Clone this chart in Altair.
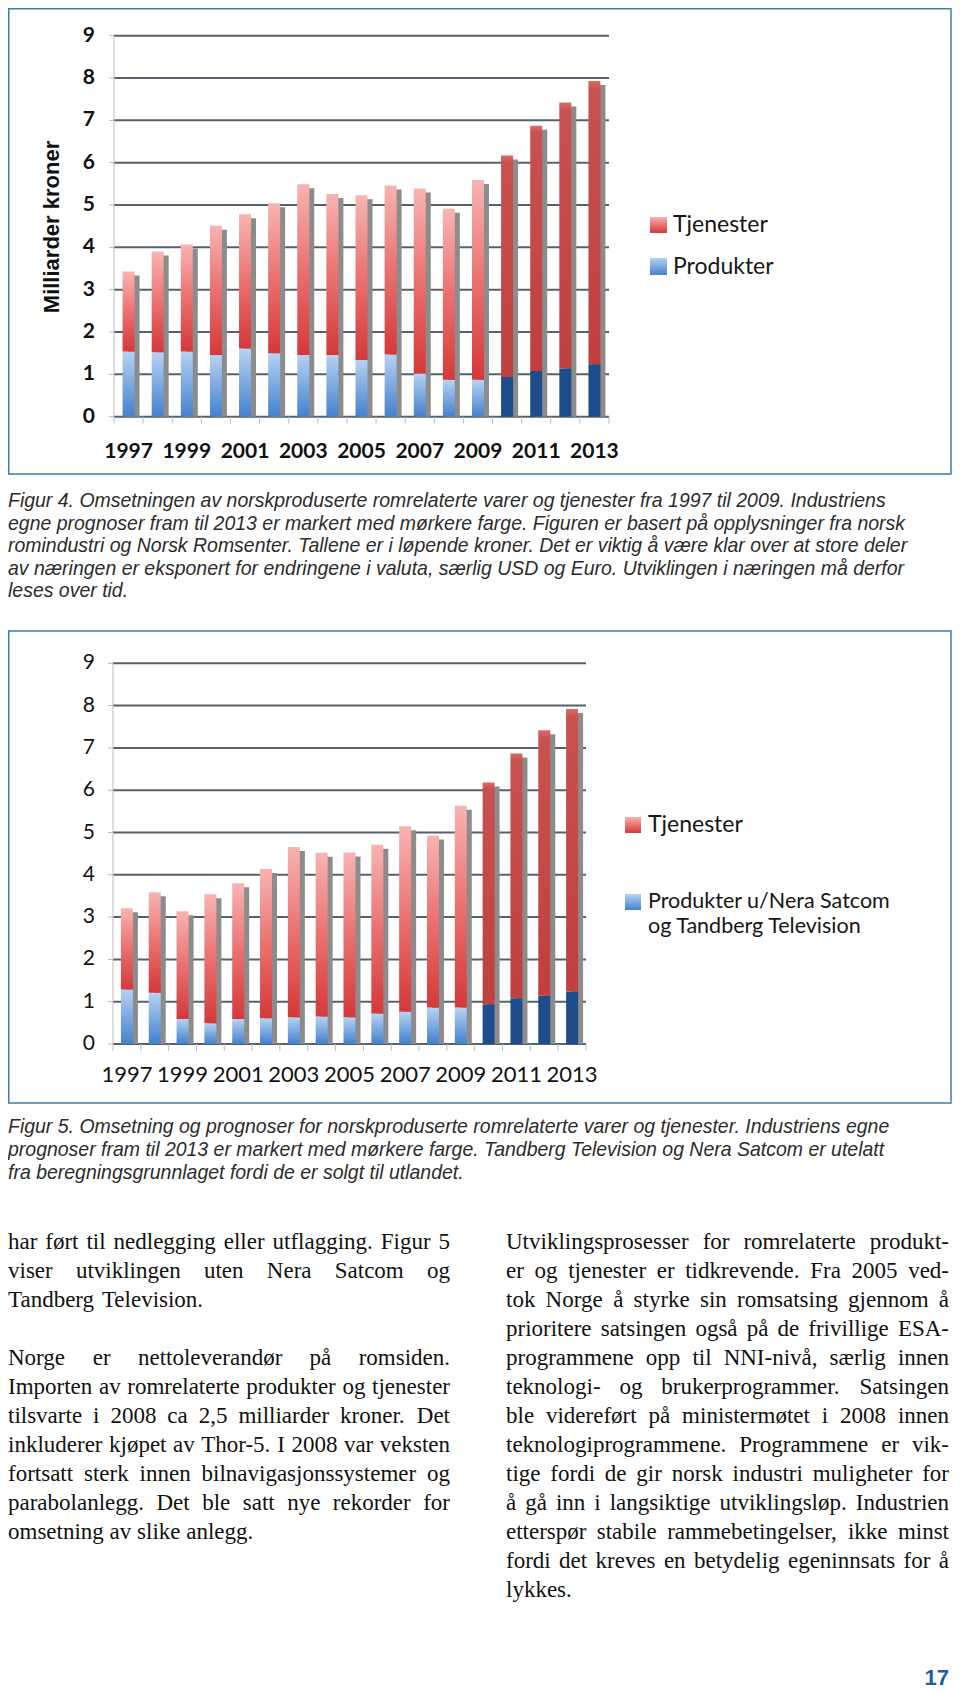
import altair as alt
import pandas as pd

# ---------------- data ----------------
years = [str(y) for y in range(1997, 2014)]
prognose_years = ["2010", "2011", "2012", "2013"]
x_labels = ["1997", "1999", "2001", "2003", "2005", "2007", "2009", "2011", "2013"]
y_ticks = [0, 1, 2, 3, 4, 5, 6, 7, 8, 9]

fig4_produkter = [1.54, 1.52, 1.54, 1.46, 1.61, 1.50, 1.46, 1.46, 1.34, 1.47, 1.02, 0.87, 0.87, 0.94, 1.08, 1.14, 1.24]
fig4_tjenester = [1.89, 2.38, 2.53, 3.05, 3.17, 3.54, 4.03, 3.80, 3.89, 3.99, 4.37, 4.04, 4.72, 5.23, 5.79, 6.28, 6.69]
fig5_produkter = [1.29, 1.21, 0.59, 0.49, 0.59, 0.61, 0.63, 0.65, 0.63, 0.72, 0.76, 0.86, 0.86, 0.94, 1.08, 1.14, 1.24]
fig5_tjenester = [1.92, 2.38, 2.55, 3.05, 3.21, 3.53, 4.03, 3.87, 3.90, 3.99, 4.39, 4.07, 4.77, 5.24, 5.79, 6.28, 6.68]

fig4_legend = ["Tjenester", "Produkter"]
fig5_legend = ["Tjenester", "Produkter u/Nera Satcom", "og Tandberg Television"]
fig4_y_title = "Milliarder kroner"

caption4 = [
    "Figur 4. Omsetningen av norskproduserte romrelaterte varer og tjenester fra 1997 til 2009. Industriens",
    "egne prognoser fram til 2013 er markert med mørkere farge. Figuren er basert på opplysninger fra norsk",
    "romindustri og Norsk Romsenter. Tallene er i løpende kroner. Det er viktig å være klar over at store deler",
    "av næringen er eksponert for endringene i valuta, særlig USD og Euro. Utviklingen i næringen må derfor",
    "leses over tid.",
]
caption5 = [
    "Figur 5. Omsetning og prognoser for norskproduserte romrelaterte varer og tjenester. Industriens egne",
    "prognoser fram til 2013 er markert med mørkere farge. Tandberg Television og Nera Satcom er utelatt",
    "fra beregningsgrunnlaget fordi de er solgt til utlandet.",
]
body_left = [
    "har ført til nedlegging eller utflagging. Figur 5",
    "viser utviklingen uten Nera Satcom og",
    "Tandberg Television.",
    "",
    "Norge er nettoleverandør på romsiden.",
    "Importen av romrelaterte produkter og tjenester",
    "tilsvarte i 2008 ca 2,5 milliarder kroner. Det",
    "inkluderer kjøpet av Thor-5. I 2008 var veksten",
    "fortsatt sterk innen bilnavigasjonssystemer og",
    "parabolanlegg. Det ble satt nye rekorder for",
    "omsetning av slike anlegg.",
]
body_right = [
    "Utviklingsprosesser for romrelaterte produkt-",
    "er og tjenester er tidkrevende. Fra 2005 ved-",
    "tok Norge å styrke sin romsatsing gjennom å",
    "prioritere satsingen også på de frivillige ESA-",
    "programmene opp til NNI-nivå, særlig innen",
    "teknologi- og brukerprogrammer. Satsingen",
    "ble videreført på ministermøtet i 2008 innen",
    "teknologiprogrammene. Programmene er vik-",
    "tige fordi de gir norsk industri muligheter for",
    "å gå inn i langsiktige utviklingsløp. Industrien",
    "etterspør stabile rammebetingelser, ikke minst",
    "fordi det kreves en betydelig egeninnsats for å",
    "lykkes.",
]
page_number = "17"

# ---------------- layout helpers ----------------
MARGIN = 8


def P(v):
    return v - MARGIN


def width_table(groups):
    t = {}
    for chars, w in groups:
        for c in chars:
            t[c] = w
    return t


TIMES = width_table([
    ("ijlt", 278), ("fr", 333), ("s", 389), ("acez", 444), ("bdghknopquvxy", 500), ("w", 722), ("m", 778),
    ("I", 333), ("J", 389), ("FPS", 556), ("ELTZ", 611), ("BCR", 667), ("ADGHKNOQUVXY", 722), ("M", 889), ("W", 944),
    ("0123456789", 500), (" .,", 250), ("-", 333), ("/:", 278), ("ø", 500), ("å", 444), ("æ", 667),
])
ARIAL = width_table([
    ("ijl", 222), ("ft", 278), ("r", 333), ("cksvxyz", 500), ("abdeghnopqu", 556), ("w", 722), ("m", 833),
    ("I", 278), ("J", 500), ("L", 556), ("FTZ", 611), ("ABEKPSVXY", 667), ("CDHNRU", 722), ("GOQ", 778), ("M", 833), ("W", 944),
    ("0123456789", 556), (" .,/", 278), ("-", 333), ("ø", 611), ("å", 556), ("æ", 889),
])


def em(s, table):
    return sum(table.get(c, 500) for c in s) / 1000.0


def layout_column(lines, x0, width, y0, pitch, fs):
    left_rows, right_rows = [], []
    for i, line in enumerate(lines):
        if not line:
            continue
        y = y0 + i * pitch
        words = line.split()
        last = (i == len(lines) - 1) or (not lines[i + 1])
        widths = [em(w, TIMES) * fs for w in words]
        if last or len(words) == 1:
            gap = 0.25 * fs
        else:
            gap = (width - sum(widths)) / (len(words) - 1)
        x = x0
        for k, (w, wd) in enumerate(zip(words, widths)):
            if (not last) and k == len(words) - 1 and len(words) > 1:
                right_rows.append({"t": w, "x": x0 + width, "y": y})
            else:
                left_rows.append({"t": w, "x": x, "y": y})
            x += wd + gap
    return left_rows, right_rows


def text_layer(rows, font, size, color, align="left", **kw):
    return alt.Chart(pd.DataFrame(rows)).mark_text(
        font=font, fontSize=size, color=color, align=align, baseline="middle", **kw
    ).encode(
        x=alt.X("x:Q", scale=None, axis=None),
        y=alt.Y("y:Q", scale=None, axis=None),
        text="t:N",
    )


def grad(stops):
    return alt.Gradient(
        gradient="linear", x1=0, y1=0, x2=0, y2=1,
        stops=[alt.GradientStop(color=c, offset=o) for o, c in stops],
    )


BLUE_HIST = grad([(0, "#b6d2f3"), (1, "#4481cd")])
RED_HIST = grad([(0, "#f8b4b2"), (0.5, "#ea7170"), (1, "#d5383a")])
RED_FC = grad([(0, "#d96b68"), (0.03, "#c9514f"), (1, "#bf403e")])
BLUE_FC = "#1e4d8b"
SHADOW = "#8c8c8c"
GRID = "#56616b"
BOX = "#3f7fa6"
CHART_FONT = "Lato"
ONE = pd.DataFrame({"a": [0]})


def rect_value(x1, x2, y1, y2, **mark):
    return alt.Chart(ONE).mark_rect(**mark).encode(
        x=alt.value(P(x1)), x2=alt.value(P(x2)), y=alt.value(P(y1)), y2=alt.value(P(y2))
    )


def bar_panel(prod, tjen, x_left, x_right, y_zero, y_nine, label_y, bold, label_size):
    df = pd.DataFrame({"year": years, "produkter": prod, "tjenester": tjen})
    df["prognose"] = df["year"].isin(prognose_years)
    xs = alt.Scale(type="band", domain=years, range=[P(x_left), P(x_right)], paddingInner=0, paddingOuter=0)
    ysc = alt.Scale(domain=[0, 9], range=[P(y_zero), P(y_nine)], nice=False, zero=False)
    base = alt.Chart(df).transform_calculate(total="datum.produkter + datum.tjenester")
    ticks = pd.DataFrame({"v": y_ticks})
    weight = "bold" if bold else "normal"
    layers = []
    # grid lines
    layers.append(alt.Chart(ticks).mark_rule(color=GRID, strokeWidth=2).encode(
        y=alt.Y("v:Q", scale=ysc, axis=None), x=alt.value(P(x_left)), x2=alt.value(P(x_right))))
    layers.append(alt.Chart(ticks).mark_rule(color="#b8b8b8", strokeWidth=1).encode(
        y=alt.Y("v:Q", scale=ysc, axis=None), x=alt.value(P(x_left) - 5), x2=alt.value(P(x_left))))
    # y axis line
    layers.append(alt.Chart(ONE).mark_rule(color="#bdbdbd", strokeWidth=1).encode(
        x=alt.value(P(x_left)), y=alt.value(P(y_nine)), y2=alt.value(P(y_zero) + 7)))
    # x ticks at band boundaries
    layers.append(alt.Chart(df).mark_rule(color="#bdbdbd", strokeWidth=1).encode(
        x=alt.X("year:O", scale=xs, axis=None, bandPosition=1),
        y=alt.value(P(y_zero)), y2=alt.value(P(y_zero) + 7)))
    # shadows
    layers.append(base.mark_bar(size=12, color=SHADOW, xOffset=5, yOffset=4).encode(
        x=alt.X("year:O", scale=xs, axis=None),
        y=alt.Y("total:Q", scale=ysc, axis=None), y2=alt.Y2Datum(0)))
    # bars
    for flag, blue, red in [(False, BLUE_HIST, RED_HIST), (True, BLUE_FC, RED_FC)]:
        f = "datum.prognose" if flag else "!datum.prognose"
        b = base.transform_filter(f)
        layers.append(b.mark_bar(size=12, color=blue).encode(
            x=alt.X("year:O", scale=xs, axis=None),
            y=alt.Y("produkter:Q", scale=ysc, axis=None), y2=alt.Y2Datum(0)))
        layers.append(b.mark_bar(size=12, color=red).encode(
            x=alt.X("year:O", scale=xs, axis=None),
            y=alt.Y("total:Q", scale=ysc, axis=None), y2=alt.Y2("produkter:Q")))
    # x labels
    layers.append(alt.Chart(pd.DataFrame({"year": x_labels})).mark_text(
        font=CHART_FONT, fontSize=label_size, fontWeight=weight, color="#111111", baseline="middle").encode(
        x=alt.X("year:O", scale=xs, axis=None, bandPosition=0.5), y=alt.value(P(label_y)), text="year:N"))
    # y labels
    layers.append(alt.Chart(ticks).mark_text(
        font=CHART_FONT, fontSize=21, fontWeight=weight, color="#111111", align="right", baseline="middle").encode(
        y=alt.Y("v:Q", scale=ysc, axis=None), x=alt.value(P(95)), text="v:Q"))
    return layers


layers = []

# boxes
layers.append(rect_value(8.75, 951, 8.75, 474, fillOpacity=0, stroke=BOX, strokeWidth=1.5))
layers.append(rect_value(8.75, 951, 631, 1103, fillOpacity=0, stroke=BOX, strokeWidth=1.5))

# Figure 4
layers += bar_panel(fig4_produkter, fig4_tjenester, 114, 609, 416.7, 35.7, 451.6, True, 21)
layers.append(alt.Chart(pd.DataFrame({"t": [fig4_y_title]})).mark_text(
    font="Liberation Sans", fontSize=22, fontWeight="bold", color="#111111", angle=270,
    align="center", baseline="middle").encode(x=alt.value(P(52)), y=alt.value(P(227)), text="t:N"))
layers.append(rect_value(650, 667, 217, 233, color=RED_HIST))
layers.append(rect_value(650, 667, 258, 275, color=BLUE_HIST))
layers.append(text_layer([{"t": fig4_legend[0], "x": P(673), "y": P(225)},
                          {"t": fig4_legend[1], "x": P(673), "y": P(266.5)}],
                         CHART_FONT, 23, "#161616"))

# Figure 5
layers += bar_panel(fig5_produkter, fig5_tjenester, 113, 586, 1044, 663.3, 1074.7, False, 22)
layers.append(rect_value(625, 641, 817, 833, color=RED_HIST))
layers.append(rect_value(625, 641, 894, 910, color=BLUE_HIST))
layers.append(text_layer([{"t": fig5_legend[0], "x": P(648), "y": P(825)}],
                         CHART_FONT, 23, "#161616"))
layers.append(text_layer([{"t": fig5_legend[1], "x": P(648), "y": P(902)},
                          {"t": fig5_legend[2], "x": P(648), "y": P(927)}],
                         CHART_FONT, 21.5, "#161616"))

# captions
cap_fs = 0.5 * (877.0 / em(caption4[0], ARIAL) + 884.0 / em(caption5[0], ARIAL))
layers.append(text_layer([{"t": s, "x": P(8), "y": P(501 + 22.5 * i)} for i, s in enumerate(caption4)],
                         "Liberation Sans", cap_fs, "#2c2c2c", fontStyle="italic"))
layers.append(text_layer([{"t": s, "x": P(8), "y": P(1126.5 + 23.2 * i)} for i, s in enumerate(caption5)],
                         "Liberation Sans", cap_fs, "#2c2c2c", fontStyle="italic"))


# body text (justified)
def fit_size(lines, width):
    sizes = [23.0]
    for i, line in enumerate(lines):
        if not line:
            continue
        last = (i == len(lines) - 1) or (not lines[i + 1])
        words = line.split()
        if last or len(words) < 2:
            continue
        sizes.append(width / (sum(em(w, TIMES) for w in words) + 0.2 * (len(words) - 1)))
    return min(sizes)


L_X0, L_W = P(8), 442.0
R_X0, R_W = P(506), 443.0
body_fs = min(fit_size(body_left, L_W), fit_size(body_right, R_W))
lrows_a, rrows_a = layout_column(body_left, L_X0, L_W, P(1241.5), 29.0, body_fs)
lrows_b, rrows_b = layout_column(body_right, R_X0, R_W, P(1241.5), 29.0, body_fs)
layers.append(text_layer(lrows_a + lrows_b, "Liberation Serif", body_fs, "#111111"))
layers.append(text_layer(rrows_a + rrows_b, "Liberation Serif", body_fs, "#111111", align="right"))

# page number
layers.append(text_layer([{"t": page_number, "x": P(949), "y": P(1678)}],
                         "Liberation Sans", 22, "#1c5da6", align="right", fontWeight="bold"))

chart = alt.layer(*layers).resolve_scale(x="independent", y="independent").properties(
    width=944, height=1683, padding=0, autosize=alt.AutoSizeParams(type="none"),
    background="white",
).configure_view(stroke=None)

chart.save("out.html", embed_options={"renderer": "svg", "actions": False})
